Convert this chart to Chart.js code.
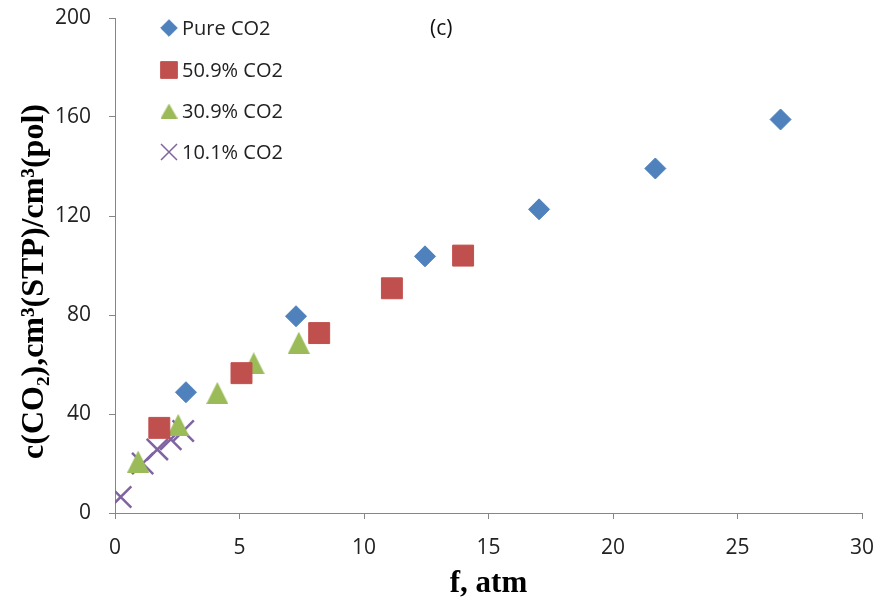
<!DOCTYPE html>
<html>
<head>
<meta charset="utf-8">
<script src="https://cdn.jsdelivr.net/npm/chart.js@4.4.0/dist/chart.umd.min.js"></script>
<style>
  html, body { margin: 0; padding: 0; background: #fff; }
  #wrap { width: 884px; height: 603px; }
</style>
</head>
<body>
<div id="wrap"><canvas id="chart" width="884" height="603"></canvas></div>
<script>
// series values (f in atm, c in cm3(STP)/cm3(pol))
const pureX = [2.85, 7.27, 12.45, 17.03, 21.7, 26.73];
const pureY = [48.8, 79.5, 103.7, 122.7, 139.2, 159.0];
const co2_509X = [1.78, 5.08, 8.2, 11.12, 13.98];
const co2_509Y = [34.4, 56.5, 72.7, 90.8, 104.0];
const co2_309X = [0.93, 2.54, 4.11, 5.57, 7.38];
const co2_309Y = [20.8, 35.6, 48.5, 60.5, 68.8];
const co2_101X = [0.23, 1.11, 1.7, 2.24, 2.74];
const co2_101Y = [6.5, 20.0, 25.7, 29.8, 33.1];

const seriesNames = ['Pure CO2', '50.9% CO2', '30.9% CO2', '10.1% CO2'];
const xTicks = [0, 5, 10, 15, 20, 25, 30];
const yTicks = [0, 40, 80, 120, 160, 200];

const blue = '#4F81BD', red = '#C0504D', green = '#9BBB59', purple = '#8064A2';

function pts(xs, ys) {
    return xs.map((x, i) => ({ x: x, y: ys[i] }));
}

// excel-like triangle marker, centred on its bounding box
function triangleMarker(w, h, color) {
    const c = document.createElement('canvas');
    c.width = w; c.height = h;
    const g = c.getContext('2d');
    g.fillStyle = color;
    g.beginPath();
    g.moveTo(w / 2, 0);
    g.lineTo(w, h);
    g.lineTo(0, h);
    g.closePath();
    g.fill();
    return c;
}
const tri = triangleMarker(22, 22, green);
const triSmall = triangleMarker(17, 15, green);

// legend drawn inside the plot, top left
const insideLegend = {
    id: 'insideLegend',
    afterDraw(chart) {
        const ctx = chart.ctx;
        const rows = [28, 70, 111, 152];
        ctx.save();
        chart.data.datasets.forEach((ds, i) => {
            const mx = 169, my = rows[i];
            const r = ds.legendRadius;
            ctx.fillStyle = ds.backgroundColor;
            ctx.strokeStyle = ds.borderColor;
            ctx.lineWidth = ds.pointBorderWidth || 1;
            if (ds.pointStyle === 'crossRot') {
                const d = r * Math.SQRT1_2;
                ctx.beginPath();
                ctx.moveTo(mx - d, my - d); ctx.lineTo(mx + d, my + d);
                ctx.moveTo(mx - d, my + d); ctx.lineTo(mx + d, my - d);
                ctx.lineWidth = 1.5;
                ctx.stroke();
            } else if (ds.pointStyle instanceof HTMLCanvasElement) {
                ctx.drawImage(triSmall, mx - 8.5, my - 7.5);
            } else {
                Chart.helpers.drawPoint(ctx, { pointStyle: ds.pointStyle, radius: r, borderWidth: 1 }, mx, my);
            }
            ctx.fillStyle = '#222';
            ctx.font = '20px "Open Sans"';
            ctx.textBaseline = 'middle';
            ctx.textAlign = 'left';
            ctx.fillText(ds.label, 182, my + 1);
        });
        // panel tag
        ctx.font = '21px "Open Sans"';
        ctx.fillStyle = '#111';
        ctx.textAlign = 'center';
        ctx.textBaseline = 'middle';
        ctx.fillText('(c)', chart.scales.x.getPixelForValue(13.1), chart.scales.y.getPixelForValue(195.4));
        ctx.restore();
    }
};

new Chart(document.getElementById('chart').getContext('2d'), {
    type: 'scatter',
    data: {
        datasets: [
            {
                label: seriesNames[0],
                data: pts(pureX, pureY),
                pointStyle: 'rectRot',
                pointRadius: 10.5,
                legendRadius: 8.3,
                backgroundColor: blue,
                borderColor: blue,
                pointBorderWidth: 1
            },
            {
                label: seriesNames[1],
                data: pts(co2_509X, co2_509Y),
                pointStyle: 'rect',
                pointRadius: 14.8,
                legendRadius: 11.8,
                backgroundColor: red,
                borderColor: red,
                pointBorderWidth: 1
            },
            {
                label: seriesNames[2],
                data: pts(co2_309X, co2_309Y),
                pointStyle: tri,
                pointRadius: 11,
                legendRadius: 8,
                backgroundColor: green,
                borderColor: green
            },
            {
                label: seriesNames[3],
                data: pts(co2_101X, co2_101Y),
                pointStyle: 'crossRot',
                pointRadius: 15,
                legendRadius: 11.3,
                backgroundColor: purple,
                borderColor: purple,
                pointBorderWidth: 2.5
            }
        ]
    },
    options: {
        responsive: false,
        animation: false,
        layout: { padding: { top: 18, right: 22, left: 0, bottom: 0 } },
        plugins: {
            legend: { display: false },
            tooltip: { enabled: false }
        },
        scales: {
            x: {
                type: 'linear',
                min: 0,
                max: 30,
                afterBuildTicks: (s) => { s.ticks = xTicks.map(v => ({ value: v })); },
                afterFit: (s) => { s.height = 90; s.paddingLeft = 0; s.paddingRight = 0; },
                grid: { drawOnChartArea: false, drawTicks: true, tickLength: 6, color: '#868686' },
                border: { color: '#868686', width: 1 },
                ticks: { color: '#222', font: { family: 'Open Sans', size: 21 }, padding: 16 },
                title: {
                    display: true,
                    text: 'f, atm',
                    color: '#000',
                    font: { family: 'Liberation Serif', size: 31, weight: 'bold' },
                    padding: { top: 0, bottom: 0 }
                }
            },
            y: {
                type: 'linear',
                min: 0,
                max: 200,
                afterBuildTicks: (s) => { s.ticks = yTicks.map(v => ({ value: v })); },
                afterFit: (s) => { s.width = 115; s.paddingTop = 0; s.paddingBottom = 0; },
                grid: { drawOnChartArea: false, drawTicks: true, tickLength: 6, color: '#868686' },
                border: { color: '#868686', width: 1 },
                ticks: { color: '#222', font: { family: 'Open Sans', size: 21 }, padding: 18 },
                title: {
                    display: true,
                    // trailing spaces push the rotated text down a little, as in the original
                    text: 'c(CO₂),cm³(STP)/cm³(pol)    ',
                    color: '#000',
                    font: { family: 'Liberation Serif', size: 32, weight: 'bold' },
                    padding: { top: 16, bottom: 0 }
                }
            }
        }
    },
    plugins: [insideLegend]
});
</script>
</body>
</html>
